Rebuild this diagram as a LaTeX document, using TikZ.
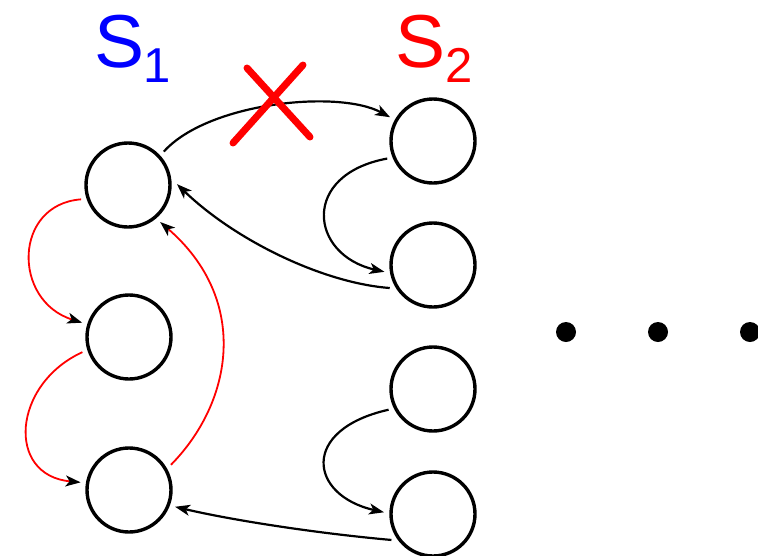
\documentclass[tikz,border=0pt]{standalone}
\usepackage{fontspec}
\setmainfont{Liberation Sans}
\usetikzlibrary{arrows.meta}
\definecolor{pblue}{RGB}{0,0,255}
\definecolor{pred}{RGB}{255,0,0}
\begin{document}
\begin{tikzpicture}[x=1pt,y=-1pt,
  state/.style={circle,draw,line width=3.4pt,minimum size=84pt,inner sep=0pt,outer sep=7pt},
  blk/.style={draw=black,line width=2.2pt,-{Stealth[length=15pt,width=11pt,inset=4pt]}},
  rd/.style={draw=pred,line width=1.8pt,-{Stealth[length=15pt,width=11pt,inset=4pt,color=black]}},
  dotnode/.style={circle,fill=black,minimum size=20pt,inner sep=0pt},
  big/.style={font=\fontsize{75}{75}\selectfont,anchor=base west,inner sep=0pt},
  small/.style={font=\fontsize{49}{49}\selectfont,anchor=base west,inner sep=0pt}]
\useasboundingbox (0,0) rectangle (758,555);
% nodes
\node[state] (n1) at (128,185) {};
\node[state] (n2) at (129,337) {};
\node[state] (n3) at (129,490) {};
\node[state] (A) at (433,141) {};
\node[state] (B) at (433,265) {};
\node[state] (C) at (433,389) {};
\node[state] (D) at (433,514) {};
% labels
\node[big,text=pblue] (s1) at (94,67) {S};
\node[small,text=pblue] (s1i) at (143,82) {1};
\node[big,text=pred] (s2) at (395,67) {S};
\node[small,text=pred] (s2i) at (445,82) {2};
% dots
\node[dotnode] (d1) at (566,332) {};
\node[dotnode] (d2) at (658,332) {};
\node[dotnode] (d3) at (750,332) {};
% black arrows
\draw[blk] (n1.43) .. controls +(44,-49) and +(-52,-28) .. (A.151);
\draw[blk] (A.201) .. controls +(-87,16) and +(-75,-17) .. (B.188);
\draw[blk] (B.208) .. controls +(-67,-5) and +(58,56) .. (n1.1);
\draw[blk] (C.205) .. controls +(-89,20) and +(-75,-17) .. (D.178);
\draw[blk] (D.212) .. controls +(-78,-7) and +(55,13) .. (n3.340);
% red arrows
\draw[rd] (n1.197) .. controls +(-68,5) and +(-70,-22) .. (n2.163);
\draw[rd] (n2.198) .. controls +(-70,32) and +(-75,-7) .. (n3.171);
\draw[rd] (n3.31) .. controls +(62,-63) and +(90,78) .. (n1.311);
% red cross
\coordinate (x1) at (233,143);
\coordinate (x2) at (303,65);
\coordinate (x3) at (247,68);
\coordinate (x4) at (310,137);
\draw[pred,line width=7pt,line cap=round] (x1) -- (x2);
\draw[pred,line width=7pt,line cap=round] (x3) -- (x4);
\end{tikzpicture}
\end{document}
